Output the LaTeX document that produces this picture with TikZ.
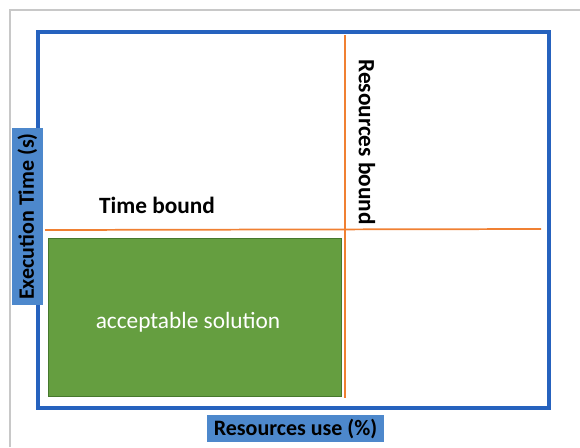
\documentclass[tikz,border=0pt]{standalone}
\usepackage{fontspec}
\setmainfont{Carlito}
\begin{document}
\definecolor{frameblue}{RGB}{38,98,190}
\definecolor{labelblue}{RGB}{77,136,204}
\definecolor{boundorange}{RGB}{240,128,50}
\definecolor{okgreen}{RGB}{101,158,64}
\definecolor{okgreenline}{RGB}{70,120,45}
\definecolor{pagegrey}{RGB}{200,200,200}
\begin{tikzpicture}[x=0.75pt,y=-0.75pt,
  axislabel/.style={fill=labelblue,inner sep=0pt,font=\fontsize{16.5}{19}\selectfont\bfseries},
  boundline/.style={draw=boundorange,line width=1.3pt},
  boundtext/.style={font=\fontsize{17.5}{20}\selectfont\bfseries,inner sep=0pt}]
  \useasboundingbox (0,0) rectangle (580,447);
  % page edge
  \draw[pagegrey,line width=1pt] (10,447) -- (10,10) -- (580,10);
  % chart frame
  \node[draw=frameblue,line width=2.4pt,minimum width=383.25pt,minimum height=282pt,inner sep=0pt] (plot) at (293.5,220) {};
  % bounds
  \coordinate (tbL) at (45,230);
  \coordinate (tbR) at (541,229);
  \coordinate (rbT) at (345,35);
  \coordinate (rbB) at (345,398);
  % acceptable region
  \node[fill=okgreen,draw=okgreenline,line width=0.6pt,minimum width=219.75pt,minimum height=118.5pt,inner sep=0pt] (ok) at (195,317) {};
  \node[font=\fontsize{17.5}{20}\selectfont,text=white,inner sep=0pt] (oktext) at (188,322) {acceptable solution};
  \draw[boundline] (tbL) -- (tbR);
  \draw[boundline] (rbT) -- (rbB);
  \node[boundtext] (tbtext) at (157,205) {Time bound};
  \node[boundtext,rotate=-90] (rbtext) at (367,142) {Resources bound};
  % axis labels
  \node[axislabel,rotate=90,minimum width=132.75pt,minimum height=23.5pt] (ylab) at (27.5,216.5) {Execution Time (s)};
  \node[axislabel,minimum width=132.75pt,minimum height=20.25pt] (xlab) at (295.5,428.5) {Resources use (\%)};
\end{tikzpicture}
\end{document}
